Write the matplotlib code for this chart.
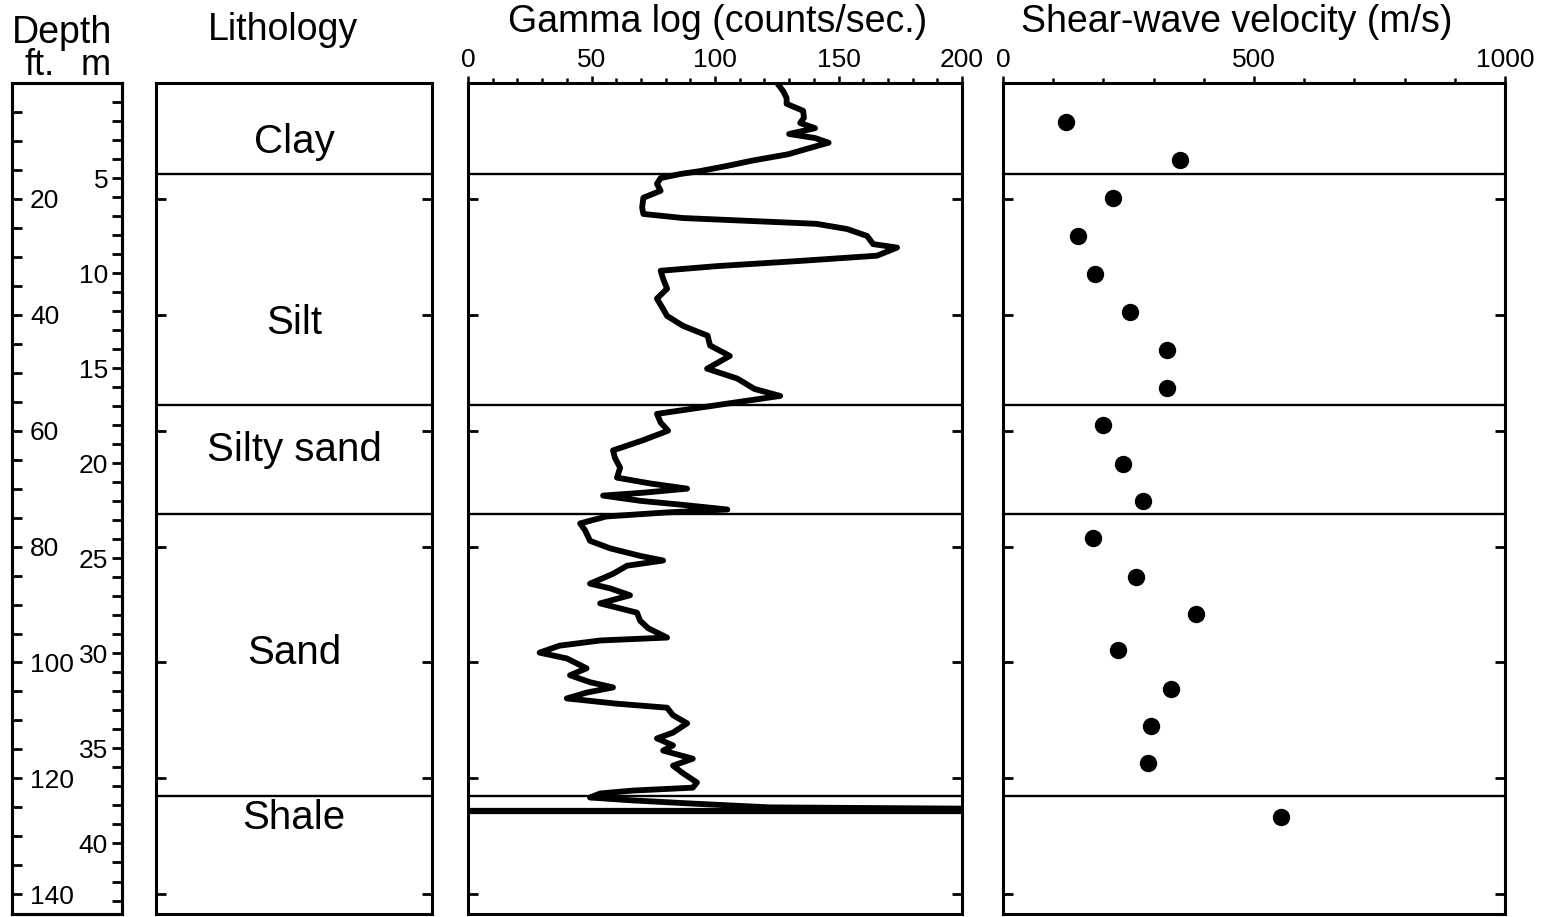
import numpy as np
import matplotlib.pyplot as plt

plt.rcParams['font.family'] = ['Liberation Sans', 'DejaVu Sans']

FT_PER_M = 3.2808
depth_max = 143.4   # ft, bottom of the section

# lithology column
layer_names = ['Clay', 'Silt', 'Silty sand', 'Sand', 'Shale']
layer_label_depth = [10.2, 41.4, 63.4, 98.3, 126.9]
layer_bounds = [15.7, 55.6, 74.3, 123.0]

# natural gamma log (depth in ft, counts/sec)
gamma_depth = [0.5, 1.4, 2.6, 3.6, 4.8, 6.0, 6.9, 7.8, 8.8, 9.5,
               10.3, 11.2, 12.3, 13.4, 14.3, 15.2, 15.7, 16.4, 17.4, 18.6,
               19.8, 21.5, 22.6, 23.3, 23.8, 24.3, 25.2, 26.4, 27.8, 28.4,
               29.8, 30.7, 31.6, 32.4, 33.8, 35.5, 37.2, 39.0, 40.2, 41.9,
               43.6, 45.3, 47.1, 49.3, 51.0, 52.8, 54.0, 55.2, 56.2, 57.1,
               58.6, 60.0, 61.7, 63.4, 64.7, 66.4, 68.1, 69.1, 70.0, 70.7,
               71.2, 72.1, 72.8, 73.6, 74.1, 74.8, 76.0, 77.2, 79.0, 80.3,
               81.6, 82.4, 83.3, 84.7, 86.4, 87.2, 88.4, 89.8, 91.4, 92.8,
               94.1, 95.7, 96.2, 97.1, 98.3, 99.3, 101.0, 102.2, 103.4, 104.3,
               105.2, 106.2, 107.1, 107.8, 109.1, 110.5, 112.1, 113.1, 114.3, 115.2,
               116.6, 117.8, 119.1, 120.7, 121.6, 122.1, 122.6, 123.3, 123.8, 124.3,
               125.0, 125.3]
gamma_counts = [126, 127.6, 129, 129, 135.7, 136, 134.5, 140.5, 130, 140.5,
                146, 138.5, 129.6, 115, 105, 94, 86, 78, 76.5, 78,
                71, 70.5, 71, 87, 114, 141, 153.5, 161.6, 164, 173.7,
                165.6, 134.5, 100.8, 78, 79, 80.6, 76.5, 79, 80.6, 87,
                97, 98, 106, 96.8, 109, 116, 126.4, 107, 91, 76.5,
                78, 81, 70.5, 58.7, 59.5, 61.6, 60.3, 73.7, 88.7, 71,
                54.7, 69.7, 87, 105, 80.6, 56, 45.4, 47.4, 49.4, 57.5,
                69.7, 79, 64.4, 58.7, 49.4, 57.5, 65.6, 53.5, 68.4, 69.7,
                73, 80.6, 53.5, 37, 29, 40, 48, 41.3, 49.4, 58.7,
                48, 40, 60, 80.6, 83, 88.7, 83, 76.5, 83, 79,
                91, 83, 87, 92.7, 91, 66.8, 53.5, 49.4, 66.8, 88.7,
                122, 230]
log_end_depth = 125.7

# downhole shear-wave velocity
vs_depth = [6.7, 13.3, 19.8, 26.4, 32.9, 39.5, 46.0, 52.6, 59.1, 65.7,
            72.1, 78.6, 85.2, 91.6, 97.9, 104.5, 110.9, 117.4, 126.6]
vs_velocity = [125, 353, 219, 149, 183, 253, 327, 327, 199, 239,
               279, 179, 265, 384, 229, 335, 295, 289, 554]

W, H = 1549, 917
fig = plt.figure(figsize=(W / 100, H / 100), dpi=100)


def panel(x0, x1, y0=83, y1=914):
    ax = fig.add_axes([x0 / W, 1 - y1 / H, (x1 - x0) / W, (y1 - y0) / H])
    ax.set_ylim(depth_max, 0)
    for s in ax.spines.values():
        s.set_linewidth(2.2)
    return ax


def side_ticks(ax):
    ax.set_yticks(np.arange(20, 141, 20))
    ax.tick_params(axis='y', direction='in', left=True, right=True,
                   length=7.5, width=2, labelleft=False)


def top_axis(ax, major, minor):
    ax.xaxis.tick_top()
    ax.set_xticks(major)
    ax.set_xticks(minor, minor=True)
    ax.tick_params(axis='x', which='major', direction='out', length=5, width=1.8,
                   labelsize=19, pad=3)
    ax.tick_params(axis='x', which='minor', direction='out', length=3.5, width=1.8)


# depth scale, feet on the left and metres on the right
ax_d = panel(12, 122)
ax_d.set_xticks([])
ax_d.set_yticks(np.arange(20, 141, 20))
ax_d.set_yticks(np.arange(0, 145, 5), minor=True)
ax_d.tick_params(axis='y', which='both', direction='in', length=7.5, width=2)
ax_d.tick_params(axis='y', which='major', labelsize=19, pad=-13)
for lbl in ax_d.get_yticklabels():
    lbl.set_horizontalalignment('left')

ax_m = ax_d.twinx()
ax_m.set_ylim(depth_max / FT_PER_M, 0)
ax_m.set_yticks(np.arange(5, 41, 5))
ax_m.set_yticks(np.arange(0, 44, 1), minor=True)
ax_m.tick_params(axis='y', which='both', direction='in', length=7.5, width=2)
ax_m.tick_params(axis='y', which='major', labelsize=19, pad=-10)
for lbl in ax_m.get_yticklabels():
    lbl.set_horizontalalignment('right')
for s in ax_m.spines.values():
    s.set_linewidth(2.2)

fig.text(62 / W, 1 - 43 / H, 'Depth', fontsize=27, ha='center', va='baseline')
fig.text(40 / W, 1 - 75 / H, 'ft.', fontsize=26, ha='center', va='baseline')
fig.text(96 / W, 1 - 75 / H, 'm', fontsize=26, ha='center', va='baseline')

# lithology column
ax_l = panel(156, 432)
ax_l.set_xlim(0, 1)
ax_l.set_xticks([])
side_ticks(ax_l)
for b in layer_bounds:
    ax_l.axhline(b, color='k', lw=1.7)
for name, d in zip(layer_names, layer_label_depth):
    ax_l.text(0.5, d, name, fontsize=29, ha='center', va='center')
fig.text(283 / W, 1 - 40 / H, 'Lithology', fontsize=27, ha='center', va='baseline')

# gamma log
ax_g = panel(468, 962)
ax_g.set_xlim(0, 200)
top_axis(ax_g, np.arange(0, 201, 50), np.arange(0, 201, 10))
side_ticks(ax_g)
for b in layer_bounds:
    ax_g.axhline(b, color='k', lw=1.7)
ax_g.plot(gamma_counts, gamma_depth, color='k', lw=4.2, solid_joinstyle='round')
ax_g.axhline(log_end_depth, color='k', lw=4.5)
fig.text(718 / W, 1 - 32 / H, 'Gamma log (counts/sec.)', fontsize=27,
         ha='center', va='baseline')

# shear-wave velocity
ax_v = panel(1003, 1505)
ax_v.set_xlim(0, 1000)
top_axis(ax_v, [0, 500, 1000], np.arange(0, 1001, 100))
side_ticks(ax_v)
for b in layer_bounds:
    ax_v.axhline(b, color='k', lw=1.7)
ax_v.plot(vs_velocity, vs_depth, 'o', color='k', ms=11.5)
fig.text(1237 / W, 1 - 32 / H, 'Shear-wave velocity (m/s)', fontsize=27,
         ha='center', va='baseline')

fig.savefig('out.png', dpi=100)
